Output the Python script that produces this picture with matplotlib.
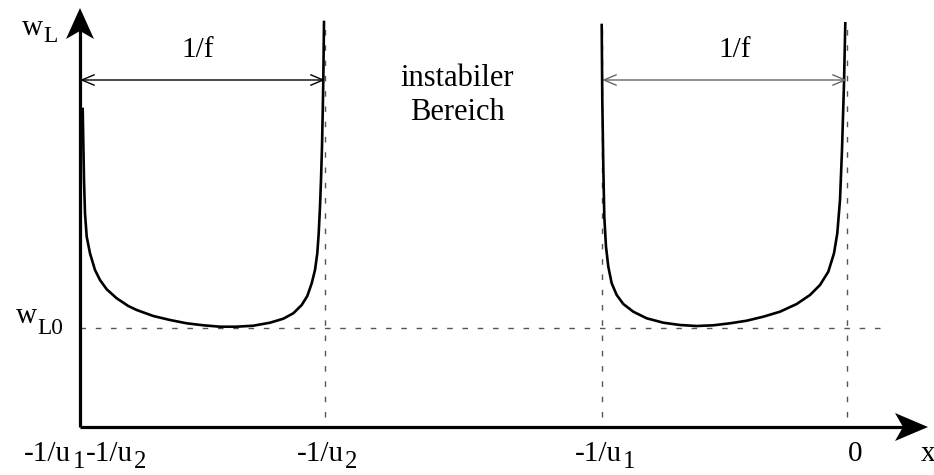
import matplotlib
matplotlib.use("Agg")
import matplotlib.pyplot as plt
from matplotlib.patches import Polygon
from matplotlib.transforms import ScaledTranslation

plt.rcParams['font.family'] = ['Liberation Serif', 'DejaVu Serif']

# ---- data ----
inv_u1 = 2.45
inv_u2 = 5.22
x_marks = [-(inv_u1 + inv_u2), -inv_u2, -inv_u1, 0.0]
w_L0 = 0.99

curve1_x = [-7.643, -7.630, -7.620, -7.603, -7.570, -7.520, -7.470, -7.403, -7.303,
            -7.187, -7.103, -6.937, -6.770, -6.603, -6.437, -6.270, -6.103, -5.937,
            -5.770, -5.637, -5.537, -5.453, -5.397, -5.353, -5.320, -5.297, -5.283,
            -5.270, -5.260, -5.250, -5.243, -5.237, -5.230]
curve1_w = [3.180, 2.470, 2.137, 1.903, 1.737, 1.570, 1.470, 1.377, 1.287,
            1.210, 1.170, 1.110, 1.070, 1.037, 1.017, 1.003, 1.003, 1.013,
            1.043, 1.083, 1.137, 1.220, 1.310, 1.437, 1.570, 1.737, 1.937,
            2.203, 2.470, 2.803, 3.137, 3.470, 4.050]

curve2_x = [-2.453, -2.447, -2.437, -2.427, -2.410, -2.387, -2.353, -2.303, -2.237,
            -2.137, -2.003, -1.837, -1.670, -1.503, -1.337, -1.170, -1.003, -0.837,
            -0.670, -0.503, -0.370, -0.270, -0.187, -0.130, -0.097, -0.070, -0.050,
            -0.030, -0.017]
curve2_w = [4.020, 3.270, 2.603, 2.103, 1.803, 1.603, 1.437, 1.320, 1.230,
            1.153, 1.087, 1.043, 1.020, 1.010, 1.017, 1.037, 1.063, 1.103,
            1.153, 1.230, 1.320, 1.420, 1.553, 1.737, 1.937, 2.270, 2.770,
            3.437, 4.037]

# ---- figure ----
fig = plt.figure(figsize=(9.34, 4.75), dpi=100)
ax = fig.add_axes([0, 0, 1, 1])
ax.set_xlim(-8.47, 0.87)
ax.set_ylim(-0.48, 4.27)
ax.axis('off')

x0 = x_marks[0]
dash = (0, (4, 7))
gray = '#555555'

# dotted helper lines
ax.plot([x0, 0.41], [w_L0, w_L0], ls=dash, lw=1.0, color=gray)
for xm, top in zip(x_marks[1:], [4.05, 4.02, 4.05]):
    ax.plot([xm, xm], [0.1, top], ls=dash, lw=1.0, color=gray)

# curves
ax.plot(curve1_x, curve1_w, color='black', lw=1.9, solid_joinstyle='round')
ax.plot(curve2_x, curve2_w, color='black', lw=1.9, solid_joinstyle='round')

# axes with notched arrow heads
x_tip = 0.81
y_tip = 4.19
ax.plot([x0, x_tip - 0.2], [0, 0], color='black', lw=2.3, solid_capstyle='butt')
ax.plot([x0, x0], [0, y_tip - 0.2], color='black', lw=2.3, solid_capstyle='butt')
head_up = [(0, 0), (-14, -31), (0, -23), (14, -31)]
head_right = [(0, 0), (-33, 14), (-25, 0), (-33, -14)]
ax.add_patch(Polygon(head_up, closed=True, color='black', lw=0,
                     transform=ScaledTranslation(x0, y_tip, ax.transData)))
ax.add_patch(Polygon(head_right, closed=True, color='black', lw=0,
                     transform=ScaledTranslation(x_tip, 0, ax.transData)))

# 1/f dimension arrows
for (xa, xb), col, dx in zip([(x_marks[0], x_marks[1]), (x_marks[2], x_marks[3])],
                             ['black', '#666666'], [-0.05, 0.10]):
    ax.annotate('', xy=(xb, 3.47), xytext=(xa, 3.47),
                arrowprops=dict(arrowstyle='<->,head_length=0.6,head_width=0.25',
                                lw=1.0, color=col, mutation_scale=15,
                                shrinkA=0, shrinkB=0))
    ax.text((xa + xb) / 2 + dx, 3.70, '1/f', ha='center', va='baseline', fontsize=21)

fs = 21


def rich(x, y, pieces, size=fs):
    """Draw text pieces left to right: (string, scale, dx_pt, dy_pt)."""
    s, sc, _, _ = pieces[0]
    prev = ax.text(x, y, s, fontsize=size * sc, ha='left', va='baseline')
    for s, sc, dxp, dyp in pieces[1:]:
        prev = ax.annotate(s, xy=(1, 0), xycoords=prev, xytext=(dxp, dyp),
                           textcoords='offset points', fontsize=size * sc,
                           ha='left', va='bottom')
    return prev


sub = 0.85
# text in the unstable region
ax.text(-3.90, 3.41, 'instabiler', ha='center', va='baseline', fontsize=22)
ax.text(-3.90, 3.07, 'Bereich', ha='center', va='baseline', fontsize=22)

# axis names
rich(-8.255, 3.92, [('w', 1, 0, 0), ('L', 0.8, 0.5, -4)])
rich(-8.31, 1.04, [('w', 1, 0, 0), ('L0', 0.8, 0.5, -7)])

# tick labels
y_lab = -0.34
rich(x_marks[0] - 0.56, y_lab, [('-1/u', 1, 0, 0), ('1', sub, 1.5, -4),
                                 ('-1/u', 1, 0, 4), ('2', sub, 0.5, -4)])
rich(x_marks[1] - 0.28, y_lab, [('-1/u', 1, 0, 0), ('2', sub, 0.5, -4)])
rich(x_marks[2] - 0.27, y_lab, [('-1/u', 1, 0, 0), ('1', sub, 0.5, -4)])
ax.text(x_marks[3] + 0.08, y_lab, '0', ha='center', va='baseline', fontsize=fs)
ax.text(0.81, y_lab, 'x', ha='center', va='baseline', fontsize=fs)

fig.savefig('out.png', dpi=100)
